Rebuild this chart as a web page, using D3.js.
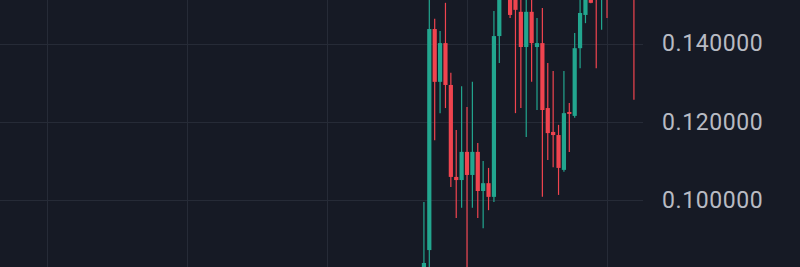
<!DOCTYPE html>
<html>
<head>
<meta charset="utf-8">
<style>
  html, body { margin: 0; padding: 0; background: #161a25; }
  svg { display: block; }
</style>
</head>
<body>
<svg width="800" height="267"></svg>
<script src="https://d3js.org/d3.v7.min.js"></script>
<script>
  // candle index -> OHLC
  var opens  = [0.0790, 0.0872, 0.1437, 0.1302, 0.1401, 0.1294, 0.1059, 0.1051, 0.1123, 0.1064,
                0.1123, 0.1023, 0.1043, 0.1008, 0.1419, 0.1540, 0.1560, 0.1530, 0.1481, 0.1391,
                0.1481, 0.1391, 0.1401, 0.1235, 0.1174, 0.1166, 0.1077, 0.1225, 0.1215, 0.1388,
                0.1473, 0.1520, 0.1570, 0.1540, 0.1580, 0.1550, 0.1590, 0.1570, 0.1600, 0.1580];
  var highs  = [0.0995, 0.1580, 0.1463, 0.1432, 0.1504, 0.1325, 0.1179, 0.1291, 0.1238, 0.1302,
                0.1146, 0.1100, 0.1082, 0.1483, 0.1570, 0.1600, 0.1590, 0.1560, 0.1530, 0.1540,
                0.1535, 0.1465, 0.1491, 0.1350, 0.1330, 0.1192, 0.1330, 0.1248, 0.1427, 0.1530,
                0.1560, 0.1570, 0.1590, 0.1600, 0.1610, 0.1620, 0.1640, 0.1620, 0.1650, 0.1620];
  var lows   = [0.0760, 0.0800, 0.1153, 0.1222, 0.1235, 0.1033, 0.0954, 0.0980, 0.0790, 0.0980,
                0.0954, 0.0928, 0.0974, 0.0995, 0.1350, 0.1525, 0.1465, 0.1222, 0.1235, 0.1161,
                0.1302, 0.1230, 0.1008, 0.1102, 0.1084, 0.1013, 0.1072, 0.1123, 0.1210, 0.1337,
                0.1452, 0.1503, 0.1337, 0.1435, 0.1465, 0.1530, 0.1540, 0.1540, 0.1560, 0.1256];
  var closes = [0.0839, 0.1437, 0.1302, 0.1401, 0.1294, 0.1059, 0.1051, 0.1123, 0.1064, 0.1123,
                0.1023, 0.1043, 0.1008, 0.1419, 0.1530, 0.1560, 0.1473, 0.1486, 0.1391, 0.1481,
                0.1401, 0.1401, 0.1230, 0.1171, 0.1166, 0.1082, 0.1222, 0.1220, 0.1388, 0.1478,
                0.1530, 0.1504, 0.1540, 0.1570, 0.1550, 0.1590, 0.1570, 0.1600, 0.1580, 0.1560];

  var priceTicks = [0.10, 0.12, 0.14];
  var timeTicks = [-70, -44, -18, 8, 34];   // candle index of the vertical grid lines

  var svg = d3.select("svg"),
      width = +svg.attr("width"),
      height = +svg.attr("height"),
      plotRight = 643;

  var data = opens.map(function(o, i) {
    return { i: i, open: o, high: highs[i], low: lows[i], close: closes[i] };
  });

  var x = d3.scaleLinear()
      .domain([-70, 34])
      .range([47, 607]);

  var y = d3.scaleLinear()
      .domain([0.10, 0.14])
      .range([200, 43.5]);

  var bodyW = 4.2;
  var up = "#22a68f", down = "#f0444f";

  svg.append("rect")
      .attr("width", width)
      .attr("height", height)
      .attr("fill", "#161a25");

  // grid
  svg.append("g")
    .selectAll("line")
    .data(timeTicks)
    .join("line")
      .attr("x1", function(d) { return Math.round(x(d)) + 0.5; })
      .attr("x2", function(d) { return Math.round(x(d)) + 0.5; })
      .attr("y1", 0)
      .attr("y2", height)
      .attr("stroke", "#262b37")
      .attr("stroke-width", 1);

  svg.append("g")
    .selectAll("line")
    .data(priceTicks)
    .join("line")
      .attr("x1", 0)
      .attr("x2", plotRight)
      .attr("y1", function(d) { return Math.round(y(d)) + 0.5; })
      .attr("y2", function(d) { return Math.round(y(d)) + 0.5; })
      .attr("stroke", "#262b37")
      .attr("stroke-width", 1);

  // candles
  var candle = svg.append("g")
    .selectAll("g")
    .data(data)
    .join("g")
      .attr("fill", function(d) { return d.close >= d.open ? up : down; })
      .attr("stroke", function(d) { return d.close >= d.open ? up : down; });

  candle.append("line")
      .attr("x1", function(d) { return x(d.i); })
      .attr("x2", function(d) { return x(d.i); })
      .attr("y1", function(d) { return y(d.high); })
      .attr("y2", function(d) { return y(d.low); })
      .attr("stroke-width", 1.2);

  candle.append("rect")
      .attr("stroke", "none")
      .attr("x", function(d) { return x(d.i) - bodyW / 2; })
      .attr("width", bodyW)
      .attr("y", function(d) { return y(Math.max(d.open, d.close)); })
      .attr("height", function(d) {
        return Math.max(1, Math.abs(y(d.open) - y(d.close)));
      });

  // price axis on the right
  var axis = svg.append("g")
      .attr("transform", "translate(" + plotRight + ",0)")
      .call(d3.axisRight(y)
        .tickValues(priceTicks)
        .tickFormat(d3.format(".6f"))
        .tickSize(0)
        .tickPadding(19));

  axis.select(".domain").remove();
  axis.selectAll("text")
      .attr("fill", "#b8bbc3")
      .attr("font-family", "Roboto, 'Noto Sans', sans-serif")
      .attr("font-size", 23)
      .attr("letter-spacing", 0.6);
</script>
</body>
</html>
